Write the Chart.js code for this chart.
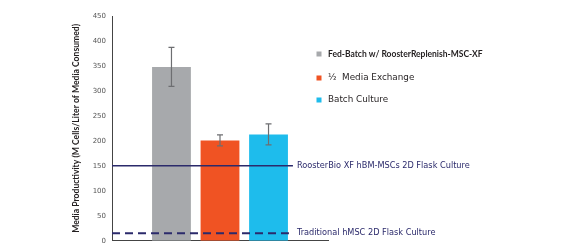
<!DOCTYPE html>
<html><head><meta charset="utf-8">
<script src="https://cdn.jsdelivr.net/npm/chart.js@4"></script>
<style>html,body{margin:0;padding:0;background:#fff;overflow:hidden;width:579px;height:244px}canvas{display:block}</style>
</head><body>
<canvas id="c" width="579" height="251"></canvas>
<script>
const seriesLabels = ["Fed-Batch w/ RoosterReplenish-MSC-XF", "\u00BD  Media Exchange", "Batch Culture"];
const seriesValues = [348, 201, 213];
const seriesErrors = [39, 11, 21];
const seriesColors = ["#a7a9ac", "#f05323", "#1ebcec"];
const refValues = [150, 15];
const refLabels = ["RoosterBio XF hBM-MSCs 2D Flask Culture", "Traditional hMSC 2D Flask Culture"];
const yTicks = [0, 50, 100, 150, 200, 250, 300, 350, 400, 450];
const FONT = "Lato, 'Open Sans', sans-serif";
const FONT2 = "'DejaVu Sans', sans-serif";
const NAVY = "#2b2a6b";

const overlay = {
  id: 'overlay',
  afterDatasetsDraw(chart) {
    const ctx = chart.ctx, y = chart.scales.y, area = chart.chartArea;
    chart.data.datasets.forEach((ds, i) => {
      const bar = chart.getDatasetMeta(i).data[0];
      const v = ds.data[0], e = seriesErrors[i];
      const yt = y.getPixelForValue(v + e), yb = y.getPixelForValue(v - e);
      ctx.save();
      ctx.strokeStyle = "#6d6e71"; ctx.lineWidth = 1.2;
      ctx.beginPath();
      ctx.moveTo(bar.x, yt); ctx.lineTo(bar.x, yb);
      ctx.moveTo(bar.x - 3, yt); ctx.lineTo(bar.x + 3, yt);
      ctx.moveTo(bar.x - 3, yb); ctx.lineTo(bar.x + 3, yb);
      ctx.stroke(); ctx.restore();
    });
    const lastBar = chart.getDatasetMeta(2).data[0];
    const xEnd = lastBar.x + lastBar.width / 2 + 5;
    refValues.forEach((rv, i) => {
      const py = y.getPixelForValue(rv);
      ctx.save();
      ctx.strokeStyle = NAVY;
      ctx.lineWidth = i === 0 ? 1.5 : 2;
      if (i === 1) ctx.setLineDash([8, 5]);
      ctx.beginPath(); ctx.moveTo(area.left, py); ctx.lineTo(i === 0 ? xEnd : xEnd - 4, py); ctx.stroke();
      ctx.setLineDash([]);
      ctx.fillStyle = NAVY; ctx.font = "8.2px " + FONT2; ctx.textBaseline = "middle";
      ctx.fillText(refLabels[i], xEnd + 4, py);
      ctx.restore();
    });
    const lx = area.right - 9;
    const lys = [38, 62, 84];
    chart.data.datasets.forEach((ds, i) => {
      const ly = area.top + lys[i];
      ctx.save();
      ctx.fillStyle = ds.backgroundColor;
      ctx.fillRect(lx - 2.5, ly - 2.5, 5, 5);
      ctx.fillStyle = "#231f20";
      ctx.font = i === 0 ? "bold 8.5px " + FONT : "8.8px " + FONT2;
      ctx.textBaseline = "middle";
      ctx.fillText(ds.label, lx + 9, ly);
      ctx.restore();
    });
  }
};

new Chart(document.getElementById('c'), {
  type: 'bar',
  data: {
    labels: [""],
    datasets: seriesLabels.map((l, i) => ({
      label: l, data: [seriesValues[i]], backgroundColor: seriesColors[i],
      categoryPercentage: 0.674, barPercentage: 0.8
    }))
  },
  options: {
    responsive: false, animation: false,
    layout: { autoPadding: false, padding: { left: 70, right: 251, top: 16, bottom: 0 } },
    plugins: { legend: { display: false }, tooltip: { enabled: false } },
    scales: {
      x: {
        grid: { display: false, drawTicks: false },
        border: { display: true, color: "#444", width: 1 },
        ticks: { display: false },
        afterFit: s => { s.height = 0; }
      },
      y: {
        min: 0, max: 450,
        afterBuildTicks: s => { s.ticks = yTicks.map(v => ({ value: v })); },
        afterFit: s => { s.width = 42; },
        grid: { display: false, drawTicks: false },
        border: { display: true, color: "#444", width: 1 },
        ticks: { color: "#555", font: { family: FONT2, size: 7 }, padding: 6 },
        title: { display: true, text: "Media Productivity (M Cells/Liter of Media Consumed)",
                 color: "#231f20", font: { family: FONT, size: 8.6, weight: 'bold' }, padding: 1 }
      }
    }
  },
  plugins: [overlay]
});
</script>
</body></html>
